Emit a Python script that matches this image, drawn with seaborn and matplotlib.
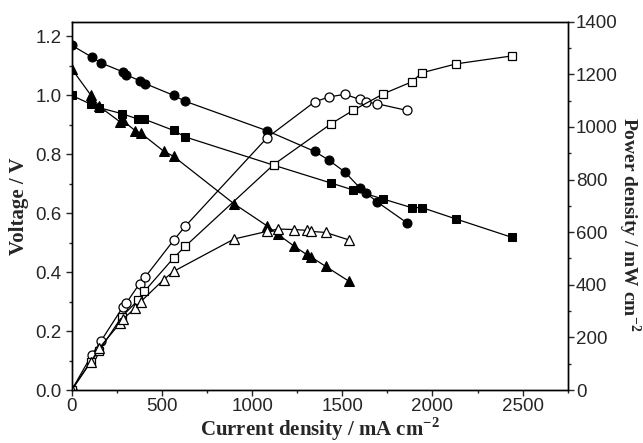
import matplotlib
matplotlib.use("Agg")
import matplotlib.pyplot as plt
from matplotlib.ticker import MultipleLocator
import seaborn as sns

# ----------------------------
# Data
# ----------------------------
# circles
i_circ = [0, 111, 163, 283, 302, 376, 407, 565, 629, 1083, 1346, 1426, 1514, 1596, 1629, 1694, 1857]
v_circ = [1.17, 1.13, 1.11, 1.08, 1.07, 1.05, 1.04, 1.00, 0.98, 0.88, 0.81, 0.78, 0.74, 0.687, 0.67, 0.638, 0.568]
p_circ = [0, 133, 187, 315, 330, 404, 429, 569, 622, 959, 1095, 1114, 1124, 1105, 1095, 1088, 1063]

# squares
i_sq = [0, 106, 153, 278, 370, 403, 565, 629, 1120, 1440, 1560, 1728, 1884, 1942, 2133, 2441]
v_sq = [1.00, 0.97, 0.958, 0.938, 0.919, 0.919, 0.881, 0.859, 0.763, 0.702, 0.679, 0.648, 0.619, 0.619, 0.580, 0.518]
p_sq = [0, 108, 150, 279, 343, 375, 502, 546, 857, 1013, 1063, 1126, 1171, 1206, 1240, 1270]

# triangles
i_tri = [0, 107, 152, 268, 283, 352, 383, 509, 565, 900, 1083, 1142, 1231, 1302, 1326, 1407, 1535]
v_tri = [1.09, 1.00, 0.963, 0.91, 0.915, 0.88, 0.872, 0.811, 0.793, 0.632, 0.557, 0.529, 0.489, 0.46, 0.452, 0.42, 0.37]
p_tri = [0, 108, 159, 254, 269, 311, 336, 419, 451, 574, 603, 612, 610, 607, 603, 599, 571]

sns.set_style("ticks")
plt.rcParams["font.family"] = ["Liberation Sans", "DejaVu Sans"]
plt.rcParams["mathtext.fontset"] = "custom"
plt.rcParams["mathtext.rm"] = "Liberation Serif:bold"
plt.rcParams["mathtext.bf"] = "Liberation Serif:bold"
plt.rcParams["xtick.major.size"] = 4
plt.rcParams["ytick.major.size"] = 4
plt.rcParams["xtick.minor.size"] = 2.5
plt.rcParams["ytick.minor.size"] = 2.5
plt.rcParams["axes.linewidth"] = 1.0

fig = plt.figure(figsize=(6.43, 4.43), dpi=100)
ax = fig.add_axes([0.1115, 0.1196, 0.7715, 0.8314])
ax2 = ax.twinx()

line_kw = dict(color="black", linewidth=0.9, sort=False, estimator=None, clip_on=True)
filled = dict(markerfacecolor="black", markeredgecolor="black", markersize=6.5)
opened = dict(markerfacecolor="white", markeredgecolor="black", markeredgewidth=0.9, markersize=6.5)

# voltage curves (filled)
sns.lineplot(x=i_circ, y=v_circ, marker="o", ax=ax, **line_kw, **filled)
sns.lineplot(x=i_sq, y=v_sq, marker="s", ax=ax, **line_kw, **dict(filled, markersize=6))
sns.lineplot(x=i_tri, y=v_tri, marker="^", ax=ax, **line_kw, **dict(filled, markersize=7.5))

# power curves (open)
sns.lineplot(x=i_circ, y=p_circ, marker="o", ax=ax2, **line_kw, **opened)
sns.lineplot(x=i_sq, y=p_sq, marker="s", ax=ax2, **line_kw, **dict(opened, markersize=6))
sns.lineplot(x=i_tri, y=p_tri, marker="^", ax=ax2, **line_kw, **dict(opened, markersize=7.5))

ax.set_xlim(0, 2750)
ax.set_ylim(0, 1.25)
ax2.set_ylim(0, 1400)

ax.xaxis.set_major_locator(MultipleLocator(500))
ax.xaxis.set_minor_locator(MultipleLocator(250))
ax.yaxis.set_major_locator(MultipleLocator(0.2))
ax.yaxis.set_minor_locator(MultipleLocator(0.1))
ax2.yaxis.set_major_locator(MultipleLocator(200))
ax2.yaxis.set_minor_locator(MultipleLocator(100))
ax.yaxis.set_major_formatter(plt.FuncFormatter(lambda v, p: f"{v:.1f}"))

for a in (ax, ax2):
    a.tick_params(labelsize=13.5, width=1.0, which="both", direction="out")
ax.tick_params(axis="x", pad=2)
ax2.tick_params(axis="y", pad=2)

label_font = dict(family="Liberation Serif", fontweight="bold", fontsize=15)
ax.set_xlabel("Current density / mA cm$^{-2}$", labelpad=0, **label_font)
ax.set_ylabel("Voltage / V", labelpad=4, **label_font)
ax2.set_ylabel("Power density / mW cm$^{-2}$", rotation=270, va="center", ha="center",
               family="Liberation Serif", fontweight="bold", fontsize=14)
ax2.yaxis.set_label_coords(1.124, 0.45)

for a in (ax, ax2):
    for s in a.spines.values():
        s.set_visible(True)
        s.set_color("black")

fig.savefig("out.png", dpi=100)
plt.close()
